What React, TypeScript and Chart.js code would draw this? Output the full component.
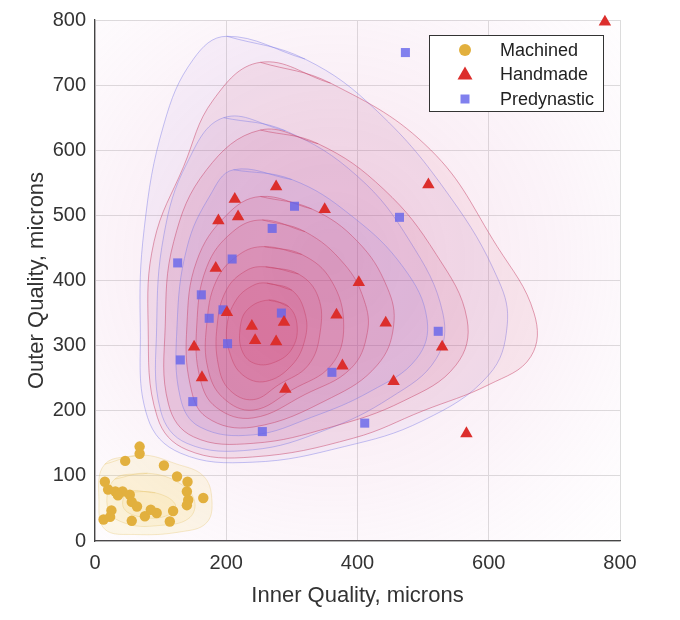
import { useEffect, useRef } from "react"
import { Chart, registerables } from "chart.js"

Chart.register(...registerables)

// [inner, outer] quality in microns
const machined = [
  [68, 145], [68, 134], [46, 123], [105, 116], [125, 99], [141, 91], [15, 91], [20, 79], [31, 76],
  [42, 76], [53, 71], [140, 76], [142, 63], [165, 66], [56, 60], [64, 53], [140, 55], [25, 47],
  [94, 43], [119, 46], [76, 38], [13, 33], [56, 31], [114, 30], [23, 37], [35, 70], [85, 48],
]
const handmade = [
  [777, 797], [276, 544], [213, 525], [350, 509], [188, 492], [218, 498], [184, 419], [402, 397],
  [508, 547], [201, 351], [239, 330], [288, 336], [368, 347], [443, 335], [244, 308], [276, 306],
  [151, 298], [377, 269], [163, 251], [290, 233], [529, 298], [455, 245], [566, 165],
]
const predynastic = [
  [473, 750], [464, 497], [304, 514], [270, 480], [209, 433], [126, 427], [162, 378], [195, 355],
  [174, 342], [284, 350], [202, 303], [130, 278], [361, 259], [149, 214], [411, 181], [255, 168],
  [523, 322],
]

// density contours (closed loops), outermost first
const blueOuter = [[201, 775], [320, 740], [430, 660], [540, 530], [615, 400], [628, 330], [600, 255], [500, 185], [380, 145], [240, 121], [130, 135], [80, 190], [69, 330], [75, 480], [105, 640], [150, 740]]
const redOuter = [[252, 735], [359, 703], [511, 601], [613, 452], [669, 350], [664, 283], [600, 240], [500, 200], [394, 158], [240, 129], [140, 140], [95, 190], [81, 330], [90, 460], [135, 575], [180, 677]]
const blueMid = [[196, 650], [290, 630], [400, 560], [480, 460], [530, 350], [520, 280], [450, 220], [350, 170], [240, 140], [140, 150], [100, 200], [94, 330], [105, 470], [140, 580]]
const redMid = [[252, 631], [340, 610], [440, 540], [520, 440], [567, 340], [550, 270], [470, 215], [360, 175], [241, 150], [150, 160], [112, 210], [107, 330], [120, 460], [170, 570]]
const blueInner = [[211, 570], [300, 555], [390, 500], [470, 420], [506, 340], [490, 280], [420, 230], [330, 190], [241, 163], [160, 175], [130, 220], [125, 330], [140, 450], [175, 530]]
const red3 = [[252, 529], [330, 510], [400, 460], [445, 390], [455, 330], [430, 270], [360, 220], [241, 175], [170, 190], [145, 240], [140, 330], [155, 430], [200, 500]]
const red4 = [[255, 493], [320, 475], [380, 425], [410, 370], [415, 320], [390, 265], [320, 225], [241, 189], [185, 205], [160, 250], [155, 330], [170, 420], [210, 475]]
const red5 = [[258, 452], [315, 440], [360, 400], [379, 330], [360, 270], [300, 232], [241, 201], [195, 220], [172, 265], [170, 330], [185, 400], [220, 440]]
const red6 = [[260, 421], [310, 410], [340, 375], [343, 320], [325, 270], [280, 240], [241, 217], [205, 232], [188, 270], [186, 330], [200, 385], [230, 415]]
const red7 = [[262, 396], [300, 385], [320, 350], [320, 310], [300, 270], [260, 245], [225, 255], [205, 290], [201, 330], [215, 370], [240, 392]]
const red8 = [[265, 370], [295, 360], [308, 330], [300, 295], [275, 275], [245, 272], [225, 290], [221, 325], [232, 355]]
const yellowOuter = [[15, 118], [70, 132], [125, 118], [165, 100], [178, 65], [170, 28], [130, 14], [60, 10], [15, 18], [6, 60]]
const yellowMid = [[30, 95], [80, 104], [130, 88], [152, 60], [142, 34], [100, 24], [50, 26], [20, 48]]
const yellowInner = [[50, 75], [92, 74], [122, 57], [112, 40], [75, 36], [44, 50]]

const hazeCentre = [360, 430]
const hazeRadius = 640

const toPoints = (pts: number[][]) => pts.map(([x, y]) => ({ x, y }))
const loop = (pts: number[][]) => toPoints([...pts, pts[0], pts[1]])

const TONES: Record<string, { line: string; fill: string }> = {
  red: { line: "rgba(200, 70, 105, 0.5)", fill: "205, 45, 95" },
  blue: { line: "rgba(125, 125, 230, 0.45)", fill: "150, 110, 215" },
  yellow: { line: "rgba(225, 190, 90, 0.3)", fill: "245, 215, 110" },
}

const contour = (pts: number[][], tone: string, alpha: number) => ({
  label: "",
  data: loop(pts),
  showLine: true,
  fill: "shape",
  tension: 0.4,
  borderColor: TONES[tone].line,
  borderWidth: 1,
  backgroundColor: `rgba(${TONES[tone].fill}, ${alpha})`,
  pointRadius: 0,
  order: 2,
})

const FONT = "'Liberation Sans', Arial, Helvetica, sans-serif"

const densityHaze = {
  id: "densityHaze",
  beforeDatasetsDraw(chart: any) {
    const { ctx, chartArea, scales } = chart
    const cx = scales.x.getPixelForValue(hazeCentre[0])
    const cy = scales.y.getPixelForValue(hazeCentre[1])
    const r = scales.x.getPixelForValue(hazeRadius) - scales.x.getPixelForValue(0)
    ctx.save()
    ctx.beginPath()
    ctx.rect(chartArea.left, chartArea.top, chartArea.right - chartArea.left, chartArea.bottom - chartArea.top)
    ctx.clip()
    const g = ctx.createRadialGradient(cx, cy, 0, cx, cy, r)
    g.addColorStop(0, "rgba(220, 120, 170, 0.22)")
    g.addColorStop(0.55, "rgba(225, 160, 205, 0.12)")
    g.addColorStop(1, "rgba(230, 190, 230, 0)")
    ctx.fillStyle = g
    ctx.fillRect(chartArea.left, chartArea.top, chartArea.right - chartArea.left, chartArea.bottom - chartArea.top)
    ctx.restore()
  },
}

function drawMarker(ctx: CanvasRenderingContext2D, style: string, x: number, y: number) {
  ctx.beginPath()
  if (style === "circle") {
    ctx.arc(x, y, 6, 0, Math.PI * 2)
  } else if (style === "triangle") {
    ctx.moveTo(x, y - 8)
    ctx.lineTo(x + 7.5, y + 5)
    ctx.lineTo(x - 7.5, y + 5)
    ctx.closePath()
  } else {
    ctx.rect(x - 4.5, y - 4.5, 9, 9)
  }
  ctx.fill()
}

const insideLegend = {
  id: "insideLegend",
  afterDraw(chart: any) {
    const { ctx, chartArea } = chart
    const w = 174
    const h = 76
    const left = chartArea.right - 17 - w
    const top = chartArea.top + 15
    ctx.save()
    ctx.fillStyle = "#ffffff"
    ctx.fillRect(left, top, w, h)
    ctx.strokeStyle = "#333333"
    ctx.lineWidth = 1
    ctx.strokeRect(left + 0.5, top + 0.5, w, h)
    ctx.font = `18px ${FONT}`
    ctx.textBaseline = "middle"
    chart.data.datasets.slice(0, 3).forEach((ds: any, i: number) => {
      const y = top + 15 + i * 24.5
      ctx.fillStyle = ds.legendColor
      drawMarker(ctx, ds.pointStyle, left + 36, y)
      ctx.fillStyle = "#222222"
      ctx.fillText(ds.label, left + 71, y + 1)
    })
    ctx.restore()
  },
}

export default function App() {
  const chartRef = useRef<HTMLCanvasElement>(null)
  const chartInstance = useRef<Chart | null>(null)

  useEffect(() => {
    if (!chartRef.current) return
    if (chartInstance.current) chartInstance.current.destroy()
    const ctx = chartRef.current.getContext("2d")
    if (!ctx) return

    chartInstance.current = new Chart(ctx, {
      type: "scatter",
      data: {
        datasets: [
          {
            label: "Machined",
            data: toPoints(machined),
            pointStyle: "circle",
            pointRadius: 5.2,
            backgroundColor: "#E2B03E",
            borderWidth: 0,
            legendColor: "#E2B03E",
            clip: false,
            order: 0,
          },
          {
            label: "Handmade",
            data: toPoints(handmade),
            pointStyle: "triangle",
            pointRadius: 7.2,
            backgroundColor: "#DC2E2C",
            borderWidth: 0,
            legendColor: "#DC2E2C",
            clip: false,
            order: 0,
          },
          {
            label: "Predynastic",
            data: toPoints(predynastic),
            pointStyle: "rect",
            pointRadius: 6.4,
            backgroundColor: "rgba(100, 100, 235, 0.8)",
            borderWidth: 0,
            legendColor: "#8080EE",
            clip: false,
            order: 0,
          },
          contour(red8, "red", 0.1),
          contour(red7, "red", 0.1),
          contour(red6, "red", 0.1),
          contour(red5, "red", 0.1),
          contour(red4, "red", 0.1),
          contour(red3, "red", 0.1),
          contour(blueInner, "blue", 0.1),
          contour(redMid, "red", 0.09),
          contour(blueMid, "blue", 0.08),
          contour(redOuter, "red", 0.08),
          contour(blueOuter, "blue", 0.07),
          contour(yellowInner, "yellow", 0.14),
          contour(yellowMid, "yellow", 0.14),
          contour(yellowOuter, "yellow", 0.16),
        ] as any,
      },
      options: {
        animation: false,
        responsive: true,
        maintainAspectRatio: false,
        events: [],
        layout: { padding: { top: 12, right: 52, bottom: 0, left: 0 } },
        scales: {
          x: {
            type: "linear",
            min: 0,
            max: 800,
            ticks: { stepSize: 200, padding: 10, color: "#333", font: { family: FONT, size: 20 } },
            grid: { color: "#dcdcdc", drawTicks: false },
            border: { color: "#444", width: 1.3 },
            title: {
              display: true,
              text: "Inner Quality, microns",
              color: "#333",
              font: { family: FONT, size: 22 },
              padding: { top: 4, bottom: 3 },
            },
            afterFit: (s: any) => {
              s.height = 71
              s.paddingLeft = 0
              s.paddingRight = 0
            },
          },
          y: {
            type: "linear",
            min: 0,
            max: 800,
            ticks: { stepSize: 100, padding: 9, color: "#333", font: { family: FONT, size: 20 } },
            grid: { color: "#dcdcdc", drawTicks: false },
            border: { color: "#444", width: 1.3 },
            title: {
              display: true,
              text: "Outer Quality, microns",
              color: "#333",
              font: { family: FONT, size: 22 },
              padding: { top: 16, bottom: 4 },
            },
            afterFit: (s: any) => {
              s.width = 87
              s.paddingTop = 0
              s.paddingBottom = 0
            },
          },
        },
        plugins: {
          legend: { display: false },
          tooltip: { enabled: false },
        },
      },
      plugins: [densityHaze, insideLegend],
    })

    return () => {
      if (chartInstance.current) {
        chartInstance.current.destroy()
        chartInstance.current = null
      }
    }
  }, [])

  return (
    <div style={{ width: 664, height: 604, position: "relative" }}>
      <canvas ref={chartRef} />
    </div>
  )
}
